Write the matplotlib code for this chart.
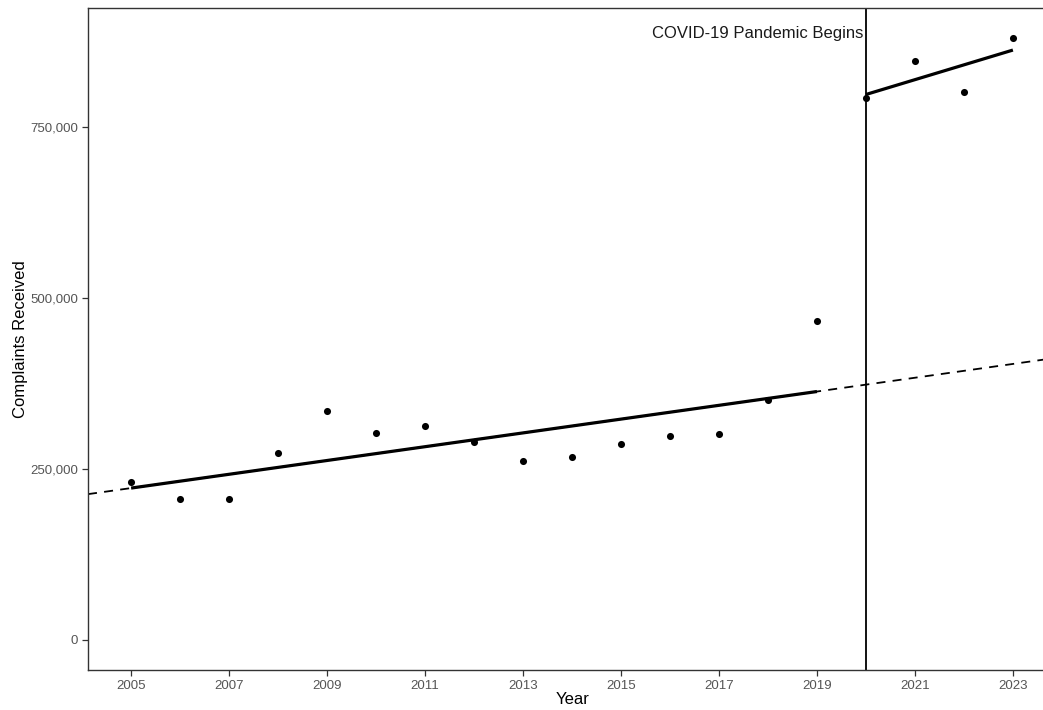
import numpy as np
import matplotlib
matplotlib.use("Agg")
import matplotlib.pyplot as plt
from matplotlib.ticker import FuncFormatter

plt.rcParams['font.family'] = ['Liberation Sans', 'DejaVu Sans']

years = [2005, 2006, 2007, 2008, 2009, 2010, 2011, 2012, 2013, 2014,
         2015, 2016, 2017, 2018, 2019, 2020, 2021, 2022, 2023]
complaints = [230600, 206100, 206000, 273800, 335200, 302600, 313300, 289000,
              261700, 268000, 287000, 297800, 300700, 350900, 466400,
              792400, 847000, 800700, 880000]
x_ticks = [2005, 2007, 2009, 2011, 2013, 2015, 2017, 2019, 2021, 2023]
y_ticks = [0, 250000, 500000, 750000]
pandemic_year = 2020
annotation = "COVID-19 Pandemic Begins"

yrs = np.array(years, dtype=float)
vals = np.array(complaints, dtype=float)
pre = yrs < pandemic_year
post = ~pre

fig = plt.figure(figsize=(10.43, 7.10), dpi=100)
W, H = 1043, 710
ax = fig.add_axes([88 / W, (H - 670) / H, (1057 - 88) / W, (670 - 8) / H])

xlim = (2004.12, 2023.9)
ax.set_xlim(*xlim)
ax.set_ylim(-44000, 924000)

# pre-pandemic trend
b1, a1 = np.polyfit(yrs[pre], vals[pre], 1)
xx = np.array(xlim)
ax.plot(xx, a1 + b1 * xx, color='black', lw=1.3, ls=(0, (5, 4)), zorder=2)
xs = np.array([yrs[pre].min(), yrs[pre].max()])
ax.plot(xs, a1 + b1 * xs, color='black', lw=2.3, solid_capstyle='butt', zorder=3)

# post-pandemic trend
b2, a2 = np.polyfit(yrs[post], vals[post], 1)
xp = np.array([yrs[post].min(), yrs[post].max()])
ax.plot(xp, a2 + b2 * xp, color='black', lw=2.3, solid_capstyle='butt', zorder=3)

ax.axvline(pandemic_year, color='black', lw=1.3, zorder=2)
ax.scatter(yrs, vals, s=26, color='black', zorder=4, linewidths=0)

ax.text(pandemic_year - 0.05, 887000, annotation, ha='right', va='center',
        fontsize=12, color='#1a1a1a')

ax.set_xticks(x_ticks)
ax.set_yticks(y_ticks)
ax.yaxis.set_major_formatter(FuncFormatter(lambda v, p: f"{int(v):,}"))
ax.tick_params(axis='both', labelsize=9.5, labelcolor='#555555', color='#333333',
               length=4, width=0.9, pad=3)
for s in ax.spines.values():
    s.set_color('#333333')
    s.set_linewidth(1.0)

ax.set_xlabel("Year", fontsize=12, labelpad=0)
ax.set_ylabel("Complaints Received", fontsize=12, labelpad=2)

fig.savefig("out.png", dpi=100)
